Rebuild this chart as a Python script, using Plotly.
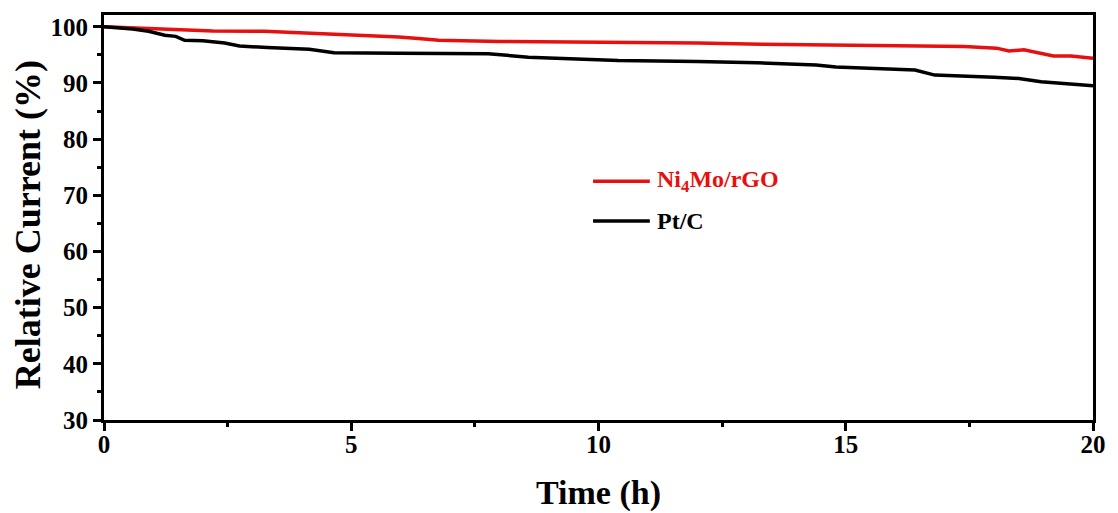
import plotly.graph_objects as go

# Chronoamperometric stability: relative current vs. time
time_ni4mo = [0, 0.3, 0.6, 1.0, 1.5, 1.75, 2.2, 3.24, 3.8, 4.15, 4.75, 5.36, 5.96, 6.36, 6.77,
              8.0, 10.0, 12.0, 13.3, 14.8, 16.3, 17.4, 18.05, 18.3, 18.6, 19.2, 19.55, 20.0]
current_ni4mo = [100.0, 99.9, 99.8, 99.7, 99.5, 99.3, 99.25, 99.2, 99.0, 98.9, 98.7, 98.4, 98.2,
                 97.9, 97.6, 97.4, 97.3, 97.1, 96.9, 96.8, 96.6, 96.5, 96.2, 95.7, 95.9, 94.8,
                 94.8, 94.4]

time_ptc = [0, 0.3, 0.58, 0.9, 1.23, 1.45, 1.63, 2.0, 2.44, 2.74, 3.3, 4.15, 4.65, 5.96, 7.77,
            8.58, 9.59, 10.4, 12.0, 13.2, 14.4, 14.8, 16.4, 16.8, 18.0, 18.5, 18.95, 20.0]
current_ptc = [100.0, 99.8, 99.6, 99.2, 98.5, 98.3, 97.6, 97.5, 97.1, 96.6, 96.3, 96.0, 95.4,
               95.3, 95.2, 94.6, 94.3, 94.0, 93.8, 93.6, 93.2, 92.85, 92.3, 91.4, 91.0, 90.8,
               90.2, 89.5]

series_names = ['Ni<sub>4</sub>Mo/rGO', 'Pt/C']
series_colors = ['#e8100f', '#000000']

x_ticks = [0, 5, 10, 15, 20]
y_ticks = [30, 40, 50, 60, 70, 80, 90, 100]

x_title = 'Time (h)'
y_title = 'Relative Current (%)'

FONT = 'Liberation Serif'

fig = go.Figure()
fig.add_trace(go.Scatter(x=time_ni4mo, y=current_ni4mo, mode='lines', name=series_names[0],
                         line=dict(color=series_colors[0], width=3.5), showlegend=False))
fig.add_trace(go.Scatter(x=time_ptc, y=current_ptc, mode='lines', name=series_names[1],
                         line=dict(color=series_colors[1], width=3.5), showlegend=False))

axis_common = dict(
    showline=True, linecolor='black', linewidth=3, mirror=True,
    ticks='outside', ticklen=8, tickwidth=3, tickcolor='black',
    showgrid=False, zeroline=False,
    tickfont=dict(family=FONT, size=25, color='black', weight='bold'),
)

fig.update_xaxes(
    range=[0, 20], tickvals=x_ticks, ticktext=[str(v) for v in x_ticks],
    ticklabelstandoff=-8,
    minor=dict(ticks='outside', ticklen=4, tickwidth=3, tickcolor='black', dtick=2.5, tick0=0),
    **axis_common,
)
fig.update_yaxes(
    range=[30, 102.1], tickvals=y_ticks, ticktext=[str(v) for v in y_ticks],
    minor=dict(ticks='outside', ticklen=4, tickwidth=3, tickcolor='black', dtick=5, tick0=0),
    **axis_common,
)

# Axis titles placed in the margins
fig.add_annotation(xref='paper', yref='paper', x=0.5, y=-0.1794,
                   xanchor='center', yanchor='middle', showarrow=False,
                   text=f'<b>{x_title}</b>', font=dict(family=FONT, size=34, color='black'))
fig.add_annotation(xref='paper', yref='paper', x=-0.0765, y=0.4816,
                   xanchor='center', yanchor='middle', showarrow=False, textangle=-90,
                   text=f'<b>{y_title}</b>', font=dict(family=FONT, size=36, color='black'))

# Legend: short line samples with bold labels in the series colours
legend_x0, legend_x1, legend_text_x = 0.4945, 0.5519, 0.5569
legend_rows = [0.5897, 0.4914]
for name, color, yrow in zip(series_names, series_colors, legend_rows):
    fig.add_shape(type='line', xref='paper', yref='paper',
                  x0=legend_x0, x1=legend_x1, y0=yrow, y1=yrow,
                  line=dict(color=color, width=3.5))
    fig.add_annotation(xref='paper', yref='paper', x=legend_text_x, y=yrow,
                       xanchor='left', yanchor='middle', showarrow=False,
                       text=f'<b>{name}</b>',
                       font=dict(family=FONT, size=24, color=color))

fig.update_layout(
    width=1118, height=513,
    margin=dict(l=104, r=21, t=13, b=93),
    plot_bgcolor='white', paper_bgcolor='white',
    font=dict(family=FONT, color='black'),
    showlegend=False,
)

fig.write_html("out.html")
